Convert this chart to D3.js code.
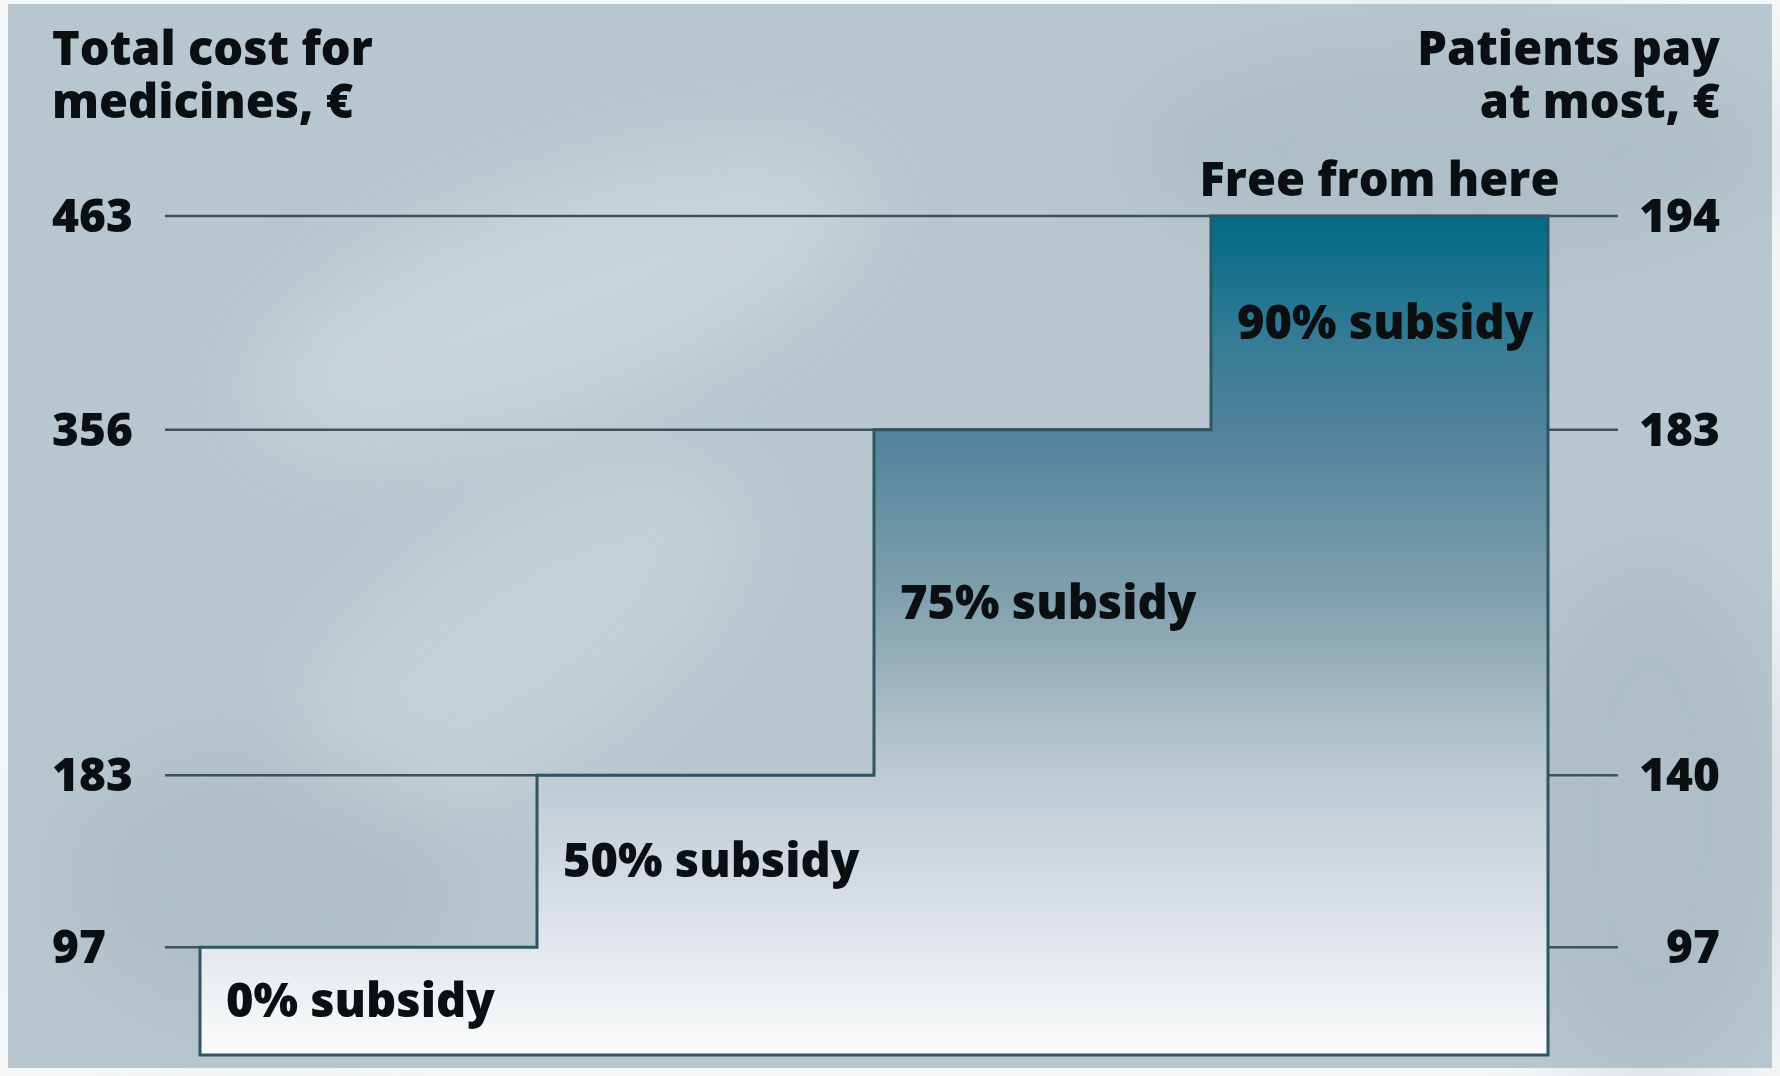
<!DOCTYPE html>
<html>
<head>
<meta charset="utf-8">
<script src="https://cdn.jsdelivr.net/npm/d3@7"></script>
<style>
  body { margin: 0; background: #fff; }
  svg { display: block; }
  text { font-family: "Open Sans", "DejaVu Sans", sans-serif; font-weight: 800; fill: #0b0f12; }
</style>
</head>
<body>
<svg id="chart" width="1780" height="1076"></svg>
<script>
// step data
const subsidy = ['0% subsidy', '50% subsidy', '75% subsidy', '90% subsidy'];
const totalCost = [97, 183, 356, 463];     // left axis, €
const patientPay = [97, 140, 183, 194];    // right axis, €
const baseCost = 43;                       // where the steps start (below first tick)
const leftTitle = ['Total cost for', 'medicines, €'];
const rightTitle = ['Patients pay', 'at most, €'];

const W = 1780, H = 1076;
const svg = d3.select('#chart');
const defs = svg.append('defs');

// soft blur for the background swirls
defs.append('filter').attr('id', 'soft')
  .attr('x', '-50%').attr('y', '-50%').attr('width', '200%').attr('height', '200%')
  .append('feGaussianBlur').attr('stdDeviation', 40);

const y = d3.scaleLinear().domain([baseCost, d3.max(totalCost)]).range([1055, 216]);
const x = d3.scaleBand().domain(subsidy).range([200, 1548]).paddingInner(0);
const bw = x.bandwidth();

// gradient over the staircase, dark teal at top -> white at bottom
const grad = defs.append('linearGradient').attr('id', 'stepGrad')
  .attr('gradientUnits', 'userSpaceOnUse')
  .attr('x1', 0).attr('x2', 0).attr('y1', y(d3.max(totalCost))).attr('y2', y(baseCost));
[[0, '#006a85'], [0.15, '#367c96'], [0.24, '#4d8199'], [0.45, '#7f9fad'],
 [0.66, '#bccad3'], [0.81, '#d6dde5'], [0.93, '#eef1f3'], [1, '#fbfcfc']]
  .forEach(([o, c]) => grad.append('stop').attr('offset', o).attr('stop-color', c));

// background
svg.append('rect').attr('x', 0).attr('y', 0).attr('width', W).attr('height', H).attr('fill', '#f4f6f7');
svg.append('rect').attr('x', 8).attr('y', 4).attr('width', W - 16).attr('height', H - 12).attr('fill', '#b8c7cf');
const bg = svg.append('g').attr('filter', 'url(#soft)');
bg.append('ellipse').attr('cx', 560).attr('cy', 300).attr('rx', 320).attr('ry', 110)
  .attr('transform', 'rotate(-20 560 300)').attr('fill', '#d2dde3').attr('opacity', 0.6);
bg.append('ellipse').attr('cx', 520).attr('cy', 640).attr('rx', 260).attr('ry', 120)
  .attr('transform', 'rotate(-35 520 640)').attr('fill', '#cbd7dd').attr('opacity', 0.6);
bg.append('ellipse').attr('cx', 1450).attr('cy', 150).attr('rx', 320).attr('ry', 110)
  .attr('fill', '#a9b9c2').attr('opacity', 0.6);
bg.append('ellipse').attr('cx', 260).attr('cy', 880).attr('rx', 200).attr('ry', 140)
  .attr('fill', '#a7b7c0').attr('opacity', 0.5);
bg.append('ellipse').attr('cx', 1650).attr('cy', 820).attr('rx', 140).attr('ry', 260)
  .attr('fill', '#a5b6bf').attr('opacity', 0.5);

// guide lines from the left axis to the end of each step
svg.append('g').selectAll('line').data(subsidy).join('line')
  .attr('x1', 165).attr('x2', d => x(d) + bw)
  .attr('y1', (d, i) => y(totalCost[i])).attr('y2', (d, i) => y(totalCost[i]))
  .attr('stroke', '#3e5359').attr('stroke-width', 2.5);

// right ticks
svg.append('g').selectAll('line').data(patientPay).join('line')
  .attr('x1', x.range()[1]).attr('x2', x.range()[1] + 70)
  .attr('y1', (d, i) => y(totalCost[i])).attr('y2', (d, i) => y(totalCost[i]))
  .attr('stroke', '#3e5359').attr('stroke-width', 2.5);

// staircase
const pts = [[x(subsidy[0]), y(baseCost)]];
subsidy.forEach((s, i) => {
  pts.push([x(s), y(totalCost[i])]);
  pts.push([x(s) + bw, y(totalCost[i])]);
});
pts.push([x.range()[1], y(baseCost)]);
svg.append('path')
  .attr('d', d3.line()(pts) + 'Z')
  .attr('fill', 'url(#stepGrad)')
  .attr('stroke', '#2c5662').attr('stroke-width', 3).attr('stroke-linejoin', 'miter');

// subsidy labels, centred between this step's top and the one before
svg.append('g').selectAll('text').data(subsidy).join('text')
  .attr('x', d => x(d) + 26)
  .attr('y', (d, i) => (y(totalCost[i]) + y(i ? totalCost[i - 1] : baseCost)) / 2 + 16)
  .attr('font-size', 47)
  .text(d => d);

// left axis labels
svg.append('g').selectAll('text').data(totalCost).join('text')
  .attr('x', 52).attr('y', d => y(d) + 16)
  .attr('font-size', 46).text(d => d);

// right axis labels
svg.append('g').selectAll('text').data(patientPay).join('text')
  .attr('x', 1720).attr('y', (d, i) => y(totalCost[i]) + 16)
  .attr('text-anchor', 'end')
  .attr('font-size', 46).text(d => d);

// titles, one text per line
svg.append('g').selectAll('text').data(leftTitle).join('text')
  .attr('x', 52).attr('y', (d, i) => 65 + i * 53)
  .attr('font-size', 47).text(d => d);

svg.append('g').selectAll('text').data(rightTitle).join('text')
  .attr('x', 1720).attr('y', (d, i) => 65 + i * 53)
  .attr('text-anchor', 'end')
  .attr('font-size', 47).text(d => d);

const last = subsidy[subsidy.length - 1];
svg.append('text')
  .attr('x', x(last) + bw / 2).attr('y', y(d3.max(totalCost)) - 20)
  .attr('text-anchor', 'middle').attr('font-size', 47)
  .text('Free from here');
</script>
</body>
</html>
